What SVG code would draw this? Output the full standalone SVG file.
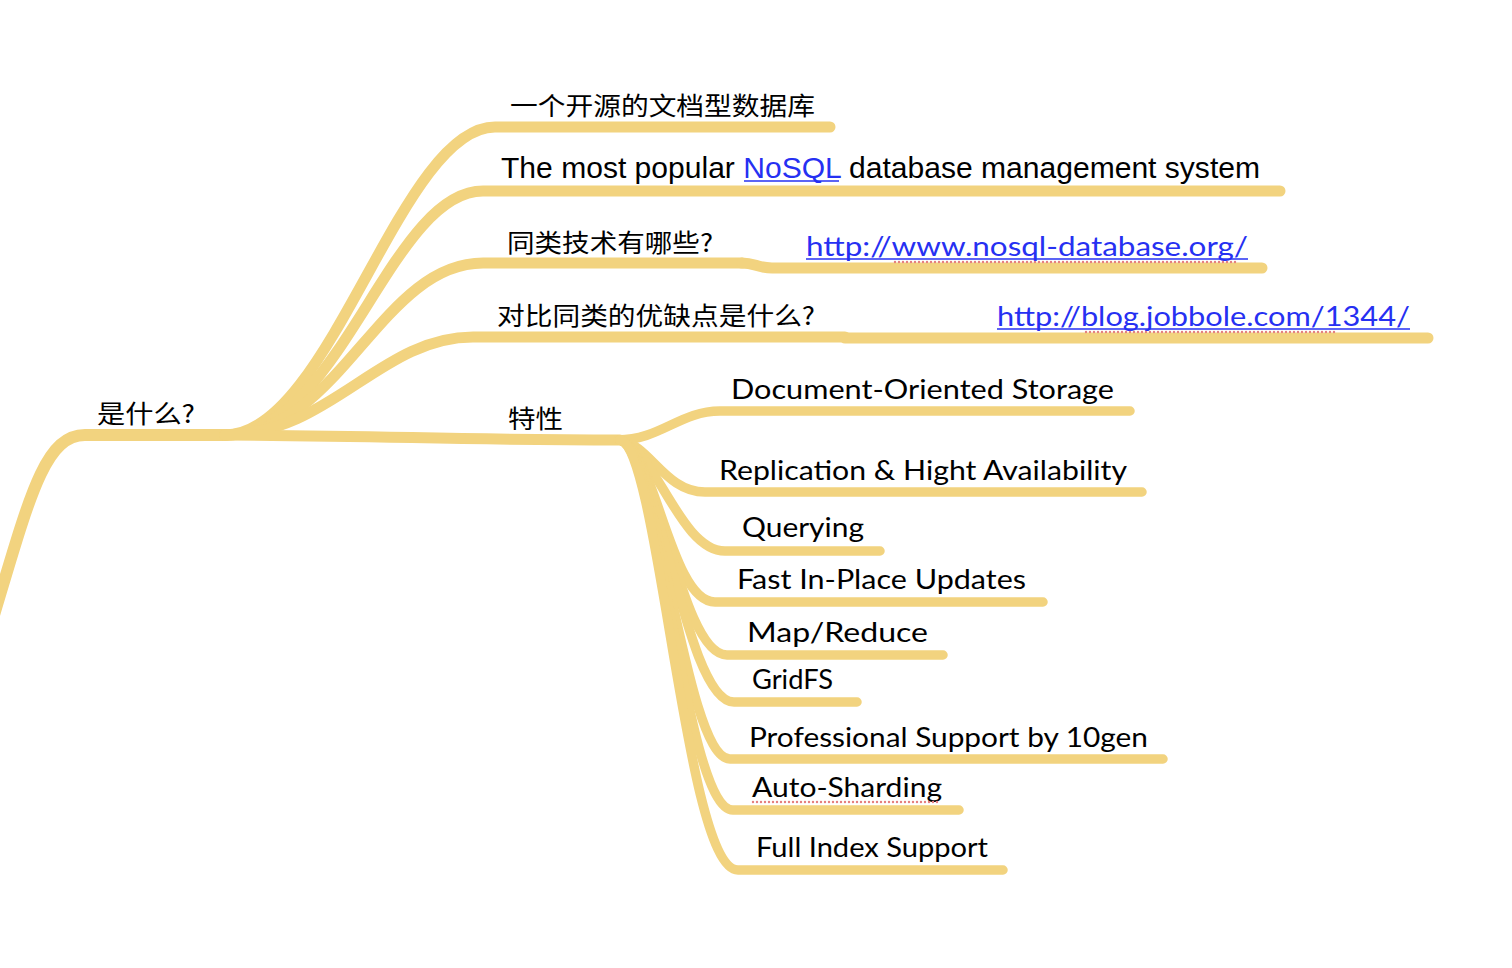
<svg xmlns="http://www.w3.org/2000/svg" width="1512" height="968" viewBox="0 0 1512 968">
<style>
.br{fill:none;stroke:#F2D37F;stroke-linecap:round;stroke-linejoin:round}
.b1{stroke-width:12}
.b2{stroke-width:11}
.b3{stroke-width:9.5}
.cn{font-family:"Noto Sans CJK SC","Noto Sans CJK JP",sans-serif;font-size:25px;fill:#000}
.hv{font-family:"Liberation Sans",Arial,sans-serif;font-size:29px;fill:#000}
.cg{font-family:"Century Gothic","Lato","Liberation Sans",sans-serif;font-size:27px;fill:#000}
.lk{fill:#2630F2}
.ul{stroke:#2630F2;stroke-width:1.6}
.sp{stroke:#E58080;stroke-width:2.4;stroke-dasharray:0 4;stroke-linecap:round}
</style>
<rect width="1512" height="968" fill="#fff"/>
<g id="connectors">
  <path class="br b1" d="M-6,615 C30,495 45,435 85,435 L226,435"/>
  <path class="br b2" d="M225,435 C330,435 400,127 495,127 L830,127"/>
  <path class="br b2" d="M225,435 C340,435 390,191 483,191 L1280,191"/>
  <path class="br b2" d="M225,435 C340,435 380,263 483,263 L742,263"/>
  <path class="br b2" d="M742,263 C755,263 757,268 772,268 L1262,268"/>
  <path class="br b2" d="M225,435 C330,435 380,337 473,337 L845,337"/>
  <path class="br b2" d="M845,338 L1428,338"/>
  <path class="br b2" d="M225,435 C400,436 450,440 620,440"/>
  <path class="br b3" d="M618,440 C660,440 680,411 720,411 L1130,411"/>
  <path class="br b3" d="M620,440 C650,445 665,492 705,492 L1142,492"/>
  <path class="br b3" d="M620,440 C655,448 680,551 725,551 L880,551"/>
  <path class="br b3" d="M620,440 C655,446 670,602 715,602 L1043,602"/>
  <path class="br b3" d="M620,440 C657,447 680,655 727,655 L943,655"/>
  <path class="br b3" d="M620,440 C658,447 685,702 734,702 L857,702"/>
  <path class="br b3" d="M620,440 C658,448 685,759 730,759 L1163,759"/>
  <path class="br b3" d="M620,440 C659,449 685,810 733,810 L959,810"/>
  <path class="br b3" d="M620,440 C660,450 685,870 738,870 L1003,870"/>
</g>
<g id="n-root"><text class="cn" x="97" y="423" textLength="98" lengthAdjust="spacingAndGlyphs">是什么?</text></g>
<g id="n-opensource"><text class="cn" x="510" y="115" textLength="305" lengthAdjust="spacingAndGlyphs">一个开源的文档型数据库</text></g>
<g id="n-popular">
  <text class="hv" x="501" y="178" textLength="759" lengthAdjust="spacingAndGlyphs">The most popular <tspan class="lk">NoSQL</tspan> database management system</text>
  <line class="ul" x1="744" y1="181" x2="839" y2="181"/>
</g>
<g id="n-similar"><text class="cn" x="507" y="252" textLength="206" lengthAdjust="spacingAndGlyphs">同类技术有哪些?</text></g>
<g id="n-url1">
  <text class="cg lk" x="806" y="256" textLength="442" lengthAdjust="spacingAndGlyphs">http://www.nosql-database.org/</text>
  <line class="ul" x1="806" y1="259" x2="1248" y2="259"/>
  <line class="sp" x1="895" y1="262" x2="1237" y2="262"/>
</g>
<g id="n-compare"><text class="cn" x="497" y="325" textLength="318" lengthAdjust="spacingAndGlyphs">对比同类的优缺点是什么?</text></g>
<g id="n-url2">
  <text class="cg lk" x="997" y="326" textLength="413" lengthAdjust="spacingAndGlyphs">http://blog.jobbole.com/1344/</text>
  <line class="ul" x1="997" y1="329" x2="1410" y2="329"/>
  <line class="sp" x1="1086" y1="332" x2="1335" y2="332"/>
</g>
<g id="n-features"><text class="cn" x="508" y="428" textLength="55" lengthAdjust="spacingAndGlyphs">特性</text></g>
<g id="n-doc"><text class="cg" x="731" y="399" textLength="383" lengthAdjust="spacingAndGlyphs">Document-Oriented Storage</text></g>
<g id="n-repl"><text class="cg" x="719" y="480" textLength="408" lengthAdjust="spacingAndGlyphs">Replication &amp; Hight Availability</text></g>
<g id="n-query"><text class="cg" x="742" y="537" textLength="122" lengthAdjust="spacingAndGlyphs">Querying</text></g>
<g id="n-fast"><text class="cg" x="737" y="589" textLength="289" lengthAdjust="spacingAndGlyphs">Fast In-Place Updates</text></g>
<g id="n-mapreduce"><text class="cg" x="747" y="642" textLength="181" lengthAdjust="spacingAndGlyphs">Map/Reduce</text></g>
<g id="n-gridfs"><text class="cg" x="752" y="689" textLength="81" lengthAdjust="spacingAndGlyphs">GridFS</text></g>
<g id="n-support"><text class="cg" x="749" y="747" textLength="399" lengthAdjust="spacingAndGlyphs">Professional Support by 10gen</text></g>
<g id="n-sharding">
  <text class="cg" x="752" y="797" textLength="190" lengthAdjust="spacingAndGlyphs">Auto-Sharding</text>
  <line class="sp" x1="753" y1="802" x2="941" y2="802"/>
</g>
<g id="n-index"><text class="cg" x="756" y="857" textLength="232" lengthAdjust="spacingAndGlyphs">Full Index Support</text></g>
</svg>
